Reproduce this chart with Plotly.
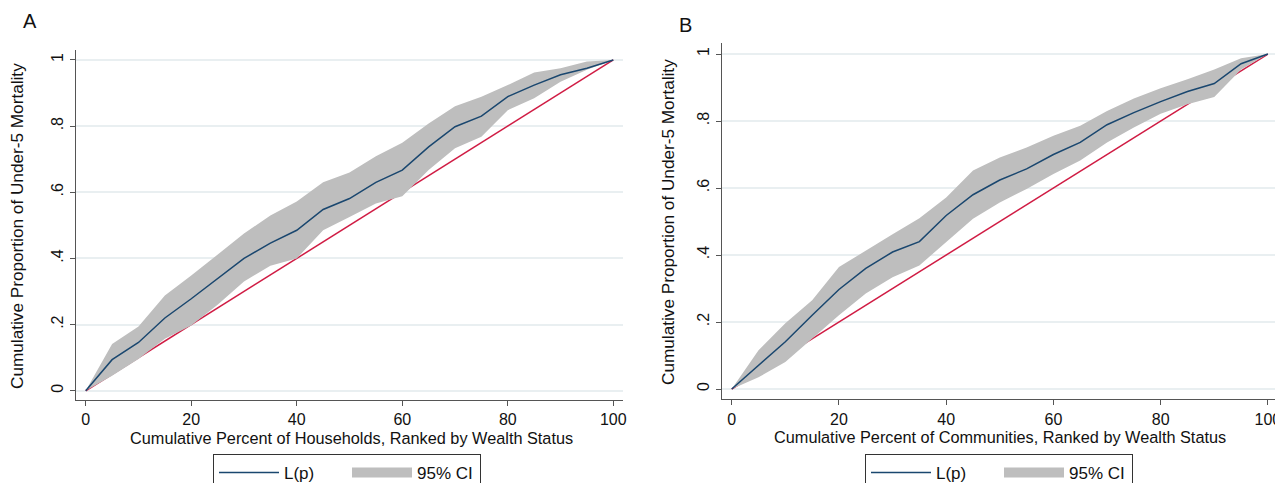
import plotly.graph_objects as go

# ---- data ----
p = [0, 5, 10, 15, 20, 25, 30, 35, 40, 45, 50, 55, 60, 65, 70, 75, 80, 85, 90, 95, 100]

lp_A = [0, 0.094, 0.146, 0.220, 0.278, 0.338, 0.400, 0.446, 0.485, 0.548, 0.581, 0.630, 0.667,
        0.737, 0.798, 0.830, 0.889, 0.924, 0.955, 0.975, 1.0]
up_A = [0, 0.141, 0.194, 0.288, 0.348, 0.412, 0.475, 0.530, 0.572, 0.630, 0.660, 0.709, 0.750,
        0.808, 0.860, 0.889, 0.924, 0.962, 0.975, 0.995, 1.0]
lo_A = [0, 0.045, 0.096, 0.157, 0.197, 0.260, 0.330, 0.378, 0.400, 0.485, 0.525, 0.566, 0.588,
        0.667, 0.733, 0.768, 0.848, 0.884, 0.934, 0.970, 1.0]

lp_B = [0, 0.071, 0.141, 0.220, 0.297, 0.360, 0.409, 0.440, 0.518, 0.580, 0.624, 0.657, 0.700,
        0.736, 0.789, 0.825, 0.858, 0.888, 0.912, 0.971, 1.0]
up_B = [0, 0.116, 0.196, 0.265, 0.364, 0.414, 0.462, 0.510, 0.572, 0.652, 0.691, 0.721, 0.756,
        0.786, 0.830, 0.867, 0.898, 0.925, 0.954, 0.987, 1.0]
lo_B = [0, 0.035, 0.081, 0.151, 0.220, 0.285, 0.334, 0.369, 0.440, 0.508, 0.557, 0.597, 0.642,
        0.682, 0.736, 0.781, 0.822, 0.850, 0.872, 0.954, 1.0]

equality = [0, 100]
equality_y = [0, 1]

y_tickvals = [0, 0.2, 0.4, 0.6, 0.8, 1]
y_ticktext = ["0", ".2", ".4", ".6", ".8", "1"]
x_tickvals = [0, 20, 40, 60, 80, 100]

NAVY = "#1a476f"
RED = "#d01c44"
GRAY = "#bebebe"
GRID = "#e9eff1"
FONT = "Liberation Sans, Arial, sans-serif"

# page body has an 8px margin: figure is placed at (8, 8) in the window
OFF = 8
W, H = 1283 - OFF, 483 - OFF


def X(px):
    return (px - OFF) / W


def Y(py):
    return 1 - (py - OFF) / H


fig = go.Figure()


def add_panel(lp, up, lo, xa, ya, legend, grp):
    fig.add_trace(go.Scatter(x=equality, y=equality_y, mode="lines",
                             line=dict(color=RED, width=1.5), showlegend=False,
                             xaxis=xa, yaxis=ya, hoverinfo="skip"))
    fig.add_trace(go.Scatter(x=p, y=lo, mode="lines", line=dict(width=0, color=GRAY),
                             showlegend=False, legendgroup=grp, xaxis=xa, yaxis=ya,
                             hoverinfo="skip"))
    fig.add_trace(go.Scatter(x=p, y=up, mode="lines", line=dict(width=0, color=GRAY),
                             fill="tonexty", fillcolor=GRAY, name="95% CI",
                             showlegend=False, legendgroup=grp, xaxis=xa, yaxis=ya))
    fig.add_trace(go.Scatter(x=p, y=lp, mode="lines", line=dict(color=NAVY, width=1.5),
                             name="L(p)", legend=legend, xaxis=xa, yaxis=ya))
    # legend swatch for the CI band (rectangle-like)
    fig.add_trace(go.Scatter(x=[None], y=[None], mode="lines",
                             line=dict(color=GRAY, width=17), name="95% CI",
                             legend=legend, legendgroup=grp, xaxis=xa, yaxis=ya))


add_panel(lp_A, up_A, lo_A, "x", "y", "legend", "ciA")
add_panel(lp_B, up_B, lo_B, "x2", "y2", "legend2", "ciB")

xaxis_common = dict(tickvals=x_tickvals, ticks="outside", ticklen=5, automargin=False,
                    tickcolor="#555", showline=True, linecolor="#555", linewidth=1,
                    showgrid=False, zeroline=False, tickfont=dict(size=16, color="#111"))
yaxis_common = dict(tickvals=y_tickvals, ticktext=y_ticktext, automargin=False,
                    tickangle=-90, ticks="outside", ticklen=5, tickcolor="#555",
                    showline=True, linecolor="#555", linewidth=1, showgrid=True,
                    gridcolor=GRID, gridwidth=1.5, zeroline=False,
                    tickfont=dict(size=16, color="#111"))

legend_common = dict(orientation="h", xanchor="center", y=Y(454), yanchor="top",
                     bordercolor="#333", borderwidth=1, bgcolor="white",
                     font=dict(size=17), itemwidth=60, entrywidth=58,
                     traceorder="normal")

fig.update_layout(
    width=W, height=H,
    margin=dict(l=0, r=0, t=0, b=0, autoexpand=False),
    paper_bgcolor="white", plot_bgcolor="white",
    font=dict(family=FONT, size=16, color="#111"),
    xaxis=dict(domain=[X(75.7), X(623)], anchor="y", range=[-1.9, 101.84], **xaxis_common),
    yaxis=dict(domain=[Y(400), Y(50)], anchor="x", range=[-0.028, 1.030], **yaxis_common),
    xaxis2=dict(domain=[X(721.7), X(1277)], anchor="y2", range=[-1.87, 101.7], **xaxis_common),
    yaxis2=dict(domain=[Y(399.3), Y(43.3)], anchor="x2", range=[-0.0307, 1.032],
                **yaxis_common),
    legend=dict(x=X(347), **legend_common),
    legend2=dict(x=X(999), **legend_common),
    annotations=[
        dict(text="A", x=X(30), y=Y(21), xref="paper", yref="paper",
             showarrow=False, font=dict(size=20), xanchor="center", yanchor="middle"),
        dict(text="B", x=X(685), y=Y(25), xref="paper", yref="paper",
             showarrow=False, font=dict(size=20), xanchor="center", yanchor="middle"),
        dict(text="Cumulative Proportion of Under-5 Mortality", x=X(17), y=Y(226),
             xref="paper", yref="paper", showarrow=False, textangle=-90,
             xanchor="center", yanchor="middle", font=dict(size=17.2)),
        dict(text="Cumulative Proportion of Under-5 Mortality", x=X(668), y=Y(222),
             xref="paper", yref="paper", showarrow=False, textangle=-90,
             xanchor="center", yanchor="middle", font=dict(size=17.2)),
        dict(text="Cumulative Percent of Households, Ranked by Wealth Status", x=X(352),
             y=Y(438), xref="paper", yref="paper", showarrow=False,
             xanchor="center", yanchor="middle", font=dict(size=16.3)),
        dict(text="Cumulative Percent of Communities, Ranked by Wealth Status", x=X(1000),
             y=Y(437), xref="paper", yref="paper", showarrow=False,
             xanchor="center", yanchor="middle", font=dict(size=16.3)),
    ],
)

fig.write_html("out.html")
